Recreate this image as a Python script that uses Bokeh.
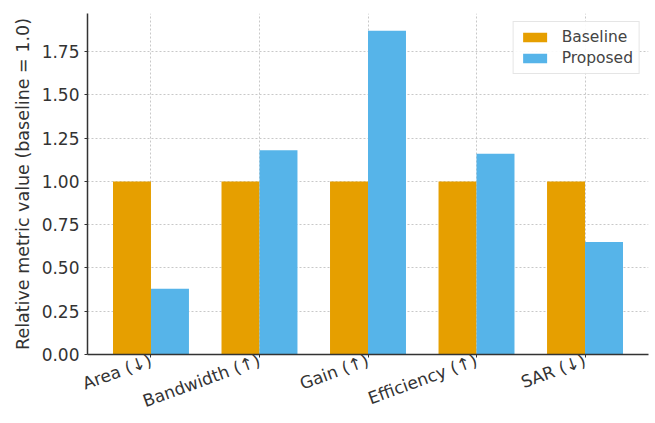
from bokeh.plotting import figure
from bokeh.models import FactorRange, Range1d, FixedTicker, NumeralTickFormatter, Legend, LegendItem
from bokeh.transform import dodge
from bokeh.embed import file_html
from bokeh.resources import INLINE
import math

categories = ["Area (↓)", "Bandwidth (↑)", "Gain (↑)", "Efficiency (↑)", "SAR (↓)"]
baseline = [1.0, 1.0, 1.0, 1.0, 1.0]
proposed = [0.38, 1.18, 1.87, 1.16, 0.65]
series_names = ["Baseline", "Proposed"]
y_ticks = [0.0, 0.25, 0.5, 0.75, 1.0, 1.25, 1.5, 1.75]

FONT = "DejaVu Sans"
TXT = "#333333"

p = figure(
    x_range=FactorRange(*categories, range_padding=0.034),
    y_range=Range1d(0, 1.97),
    width=652, height=423,
    output_backend="svg", toolbar_location=None,
    min_border_left=87, min_border_right=4, min_border_top=13, min_border_bottom=66,
)

src = dict(cat=categories, baseline=baseline, proposed=proposed)
r1 = p.vbar(x=dodge("cat", -0.175, range=p.x_range), top="baseline", width=0.35,
            source=src, fill_color="#E69F00", line_color=None)
r2 = p.vbar(x=dodge("cat", 0.175, range=p.x_range), top="proposed", width=0.35,
            source=src, fill_color="#56B4E9", line_color=None)

legend = Legend(items=[LegendItem(label=series_names[0], renderers=[r1]),
                       LegendItem(label=series_names[1], renderers=[r2])],
                location="top_right")
legend.label_text_font = FONT
legend.label_text_font_size = "15.5px"
legend.label_text_color = "#444444"
legend.glyph_width = 30
legend.glyph_height = 12
legend.label_standoff = 12
legend.spacing = 3
legend.padding = 6
legend.margin = 8
legend.border_line_color = "#cccccc"
legend.border_line_width = 1
legend.background_fill_alpha = 0.9
p.add_layout(legend)

p.yaxis.ticker = FixedTicker(ticks=y_ticks)
p.yaxis.formatter = NumeralTickFormatter(format="0.00")
p.yaxis.axis_label = "Relative metric value (baseline = 1.0)"
p.yaxis.axis_label_text_font = FONT
p.yaxis.axis_label_text_font_size = "17.5px"
p.yaxis.axis_label_text_font_style = "normal"
p.yaxis.axis_label_text_color = TXT
p.yaxis.axis_label_standoff = 6

for ax in (p.xaxis, p.yaxis):
    ax.major_label_text_font = FONT
    ax.major_label_text_font_size = "17px"
    ax.major_label_text_color = TXT
    ax.axis_line_color = "#333333"
    ax.axis_line_width = 1.5
    ax.major_tick_line_color = "#333333"
    ax.major_tick_out = 3
    ax.major_tick_in = 0
    ax.minor_tick_line_color = None

p.xaxis.major_label_orientation = math.radians(20)
p.xaxis.major_label_standoff = 2

p.xgrid.grid_line_color = "#c8c8c8"
p.xgrid.grid_line_dash = "2 2"
p.ygrid.grid_line_color = "#c8c8c8"
p.ygrid.grid_line_dash = "2 2"
p.outline_line_color = None

open("out.html", "w").write(file_html(p, INLINE))
